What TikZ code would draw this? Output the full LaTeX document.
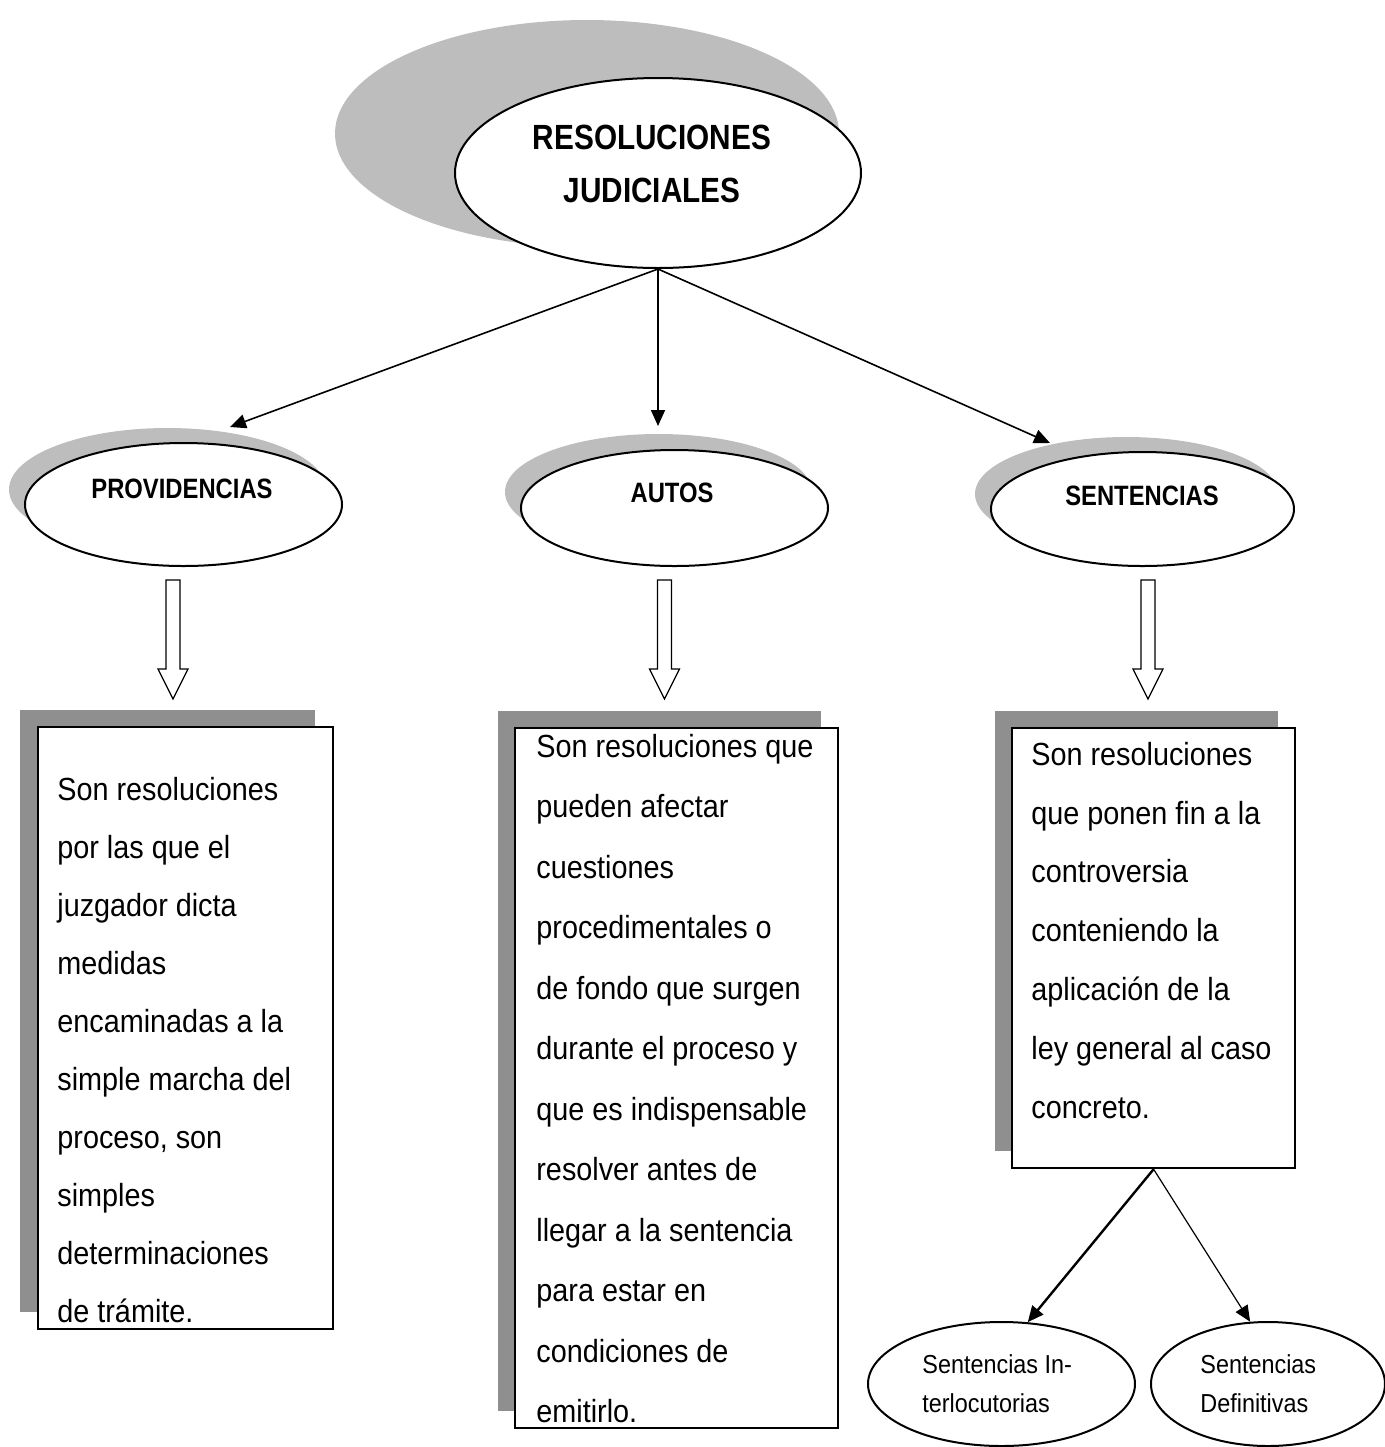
\documentclass[tikz,border=0pt]{standalone}
\usepackage{fontspec}
\newfontfamily\bodyfont[FakeStretch=0.9]{Liberation Sans}
\newfontfamily\titlefont[FakeStretch=0.85]{Liberation Sans}
\usetikzlibrary{shapes.geometric, arrows.meta}
\definecolor{ellshade}{gray}{0.74}
\definecolor{boxshade}{gray}{0.56}

\begin{document}
\begin{tikzpicture}[x=0.5pt, y=-0.5pt,
    oval/.style={ellipse, draw, line width=1pt, fill=white, inner sep=0pt},
    ovalshade/.style={ellipse, fill=ellshade, inner sep=0pt},
    card/.style={rectangle, draw, line width=1.1pt, fill=white,
                 anchor=north west, inner sep=0pt},
    cardshade/.style={rectangle, fill=boxshade, anchor=north west, inner sep=0pt},
    title/.style={font=\titlefont\bfseries\fontsize{14pt}{17pt}\selectfont,
                  inner sep=0pt, anchor=base},
    body/.style={align=left, inner sep=0pt, anchor=north west},
    arr/.style={-{Triangle[length=8pt,width=7pt]}, line width=0.8pt},
    hollow/.style={draw, line width=0.6pt, fill=white}
  ]
  \useasboundingbox (0,0) rectangle (1385,1447);

  % shadows
  \node[ovalshade, minimum width=252pt, minimum height=113.5pt] (resolsh) at (587,133.5) {};
  \node[ovalshade, minimum width=158.5pt, minimum height=61.5pt] (provsh) at (167.5,489.5) {};
  \node[ovalshade, minimum width=153.5pt, minimum height=58pt] (autossh) at (658.5,492) {};
  \node[ovalshade, minimum width=151.5pt, minimum height=57pt] (sentsh) at (1126.5,494) {};
  \node[cardshade, minimum width=147.5pt, minimum height=301pt] (provboxsh) at (20,710) {};
  \node[cardshade, minimum width=161.5pt, minimum height=350pt] (autosboxsh) at (498,711) {};
  \node[cardshade, minimum width=141.5pt, minimum height=220pt] (sentboxsh) at (995,711) {};

  % ovals
  \node[oval, minimum width=203pt, minimum height=95pt] (resol) at (658,173) {};
  \node[oval, minimum width=158.5pt, minimum height=61.5pt] (prov) at (183.5,504.5) {};
  \node[oval, minimum width=153.5pt, minimum height=58pt] (autos) at (674.5,508) {};
  \node[oval, minimum width=151.5pt, minimum height=57pt] (sent) at (1142.5,509) {};
  \node[oval, minimum width=133.5pt, minimum height=62pt] (interl) at (1001.5,1384) {};
  \node[oval, minimum width=117pt, minimum height=62pt] (defin) at (1268,1384) {};

  \node[align=center, inner sep=0pt,
        font=\titlefont\bfseries\fontsize{17.5pt}{26.5pt}\selectfont]
        (resoltxt) at (652,164) {RESOLUCIONES\\JUDICIALES};
  \node[title] (provtxt) at (182,498) {PROVIDENCIAS};
  \node[title] (autostxt) at (672,502) {AUTOS};
  \node[title] (senttxt) at (1142,505) {SENTENCIAS};

  % boxes
  \node[card, minimum width=147.5pt, minimum height=301pt] (provbox) at (37,726) {};
  \node[card, minimum width=161.5pt, minimum height=350pt] (autosbox) at (514,727) {};
  \node[card, minimum width=141.5pt, minimum height=220pt] (sentbox) at (1011,727) {};

  \node[body, font=\bodyfont\fontsize{16pt}{29pt}\selectfont] (provdef) at (57,776.6)
    {Son resoluciones\\por las que el\\juzgador dicta\\medidas\\encaminadas a la\\
     simple marcha del\\proceso, son\\simples\\determinaciones\\de trámite.};
  \node[body, font=\bodyfont\fontsize{16pt}{30.25pt}\selectfont] (autosdef) at (536,733.6)
    {Son resoluciones que\\pueden afectar\\cuestiones\\procedimentales o\\
     de fondo que surgen\\durante el proceso y\\que es indispensable\\
     resolver antes de\\llegar a la sentencia\\para estar en\\condiciones de\\emitirlo.};
  \node[body, font=\bodyfont\fontsize{16pt}{29.4pt}\selectfont] (sentdef) at (1031,741.6)
    {Son resoluciones\\que ponen fin a la\\controversia\\conteniendo la\\
     aplicación de la\\ley general al caso\\concreto.};

  \node[body, font=\bodyfont\fontsize{13pt}{19.5pt}\selectfont] (interltxt) at (922,1354)
    {Sentencias In-\\terlocutorias};
  \node[body, font=\bodyfont\fontsize{13pt}{19.5pt}\selectfont] (defintxt) at (1200,1354)
    {Sentencias\\Definitivas};

  % connectors
  \coordinate (provtip) at (230,427);
  \coordinate (autostip) at (658,426);
  \coordinate (senttip) at (1050,443);
  \draw[arr] (resol.south) -- (provtip);
  \draw[arr] (resol.south) -- (autostip);
  \draw[arr] (resol.south) -- (senttip);

  \foreach \cx in {173,664.5,1148}
    \draw[hollow] (\cx-7,580) -- (\cx+7,580) -- (\cx+7,669) -- (\cx+15,669)
      -- (\cx,699) -- (\cx-15,669) -- (\cx-7,669) -- cycle;

  \draw[arr, line width=1.2pt] (sentbox.south) -- (interl.67);
  \draw[arr, line width=0.6pt] (sentbox.south) -- (defin.106);
\end{tikzpicture}
\end{document}
